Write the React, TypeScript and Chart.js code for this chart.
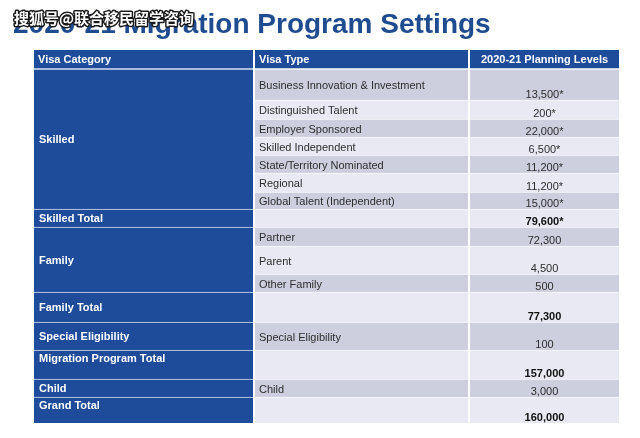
import React, { useEffect, useRef } from 'react';
import { Chart, registerables } from 'chart.js';

Chart.register(...registerables);

// ---------- data ----------
const titleText = '2020-21 Migration Program Settings';
const watermarkText = '搜狐号@联合移民留学咨询';
const headers = ['Visa Category', 'Visa Type', '2020-21 Planning Levels'];
const categories = [
  'Skilled',
  'Skilled Total',
  'Family',
  'Family Total',
  'Special Eligibility',
  'Migration Program Total',
  'Child',
  'Grand Total',
];
const categoryRowSpans = [7, 1, 3, 1, 1, 1, 1, 1];
const visaTypes = [
  'Business Innovation & Investment',
  'Distinguished Talent',
  'Employer Sponsored',
  'Skilled Independent',
  'State/Territory Nominated',
  'Regional',
  'Global Talent (Independent)',
  '',
  'Partner',
  'Parent',
  'Other Family',
  '',
  'Special Eligibility',
  '',
  'Child',
  '',
];
const planningLevels = [13500, 200, 22000, 6500, 11200, 11200, 15000, 79600, 72300, 4500, 500, 77300, 100, 157000, 3000, 160000];
const provisionalFlags = [true, true, true, true, true, true, true, true, false, false, false, false, false, false, false, false];
const totalFlags = [false, false, false, false, false, false, false, true, false, false, false, true, false, true, false, true];

// ---------- layout (not data) ----------
const rowHeights = [19, 31, 19, 18, 18, 18, 19, 17, 18, 19, 28, 18, 30, 28, 29, 18, 26];
const colWidths = [219, 213, 149];
const colGap = 2;
const categoryTopAligned = [false, false, false, false, false, true, false, true];

const BLUE = '#1e4b9a';
const DARK_ROW = '#cdcfde';
const LIGHT_ROW = '#e8e9f2';
const TEXT = '#2e2e2e';
const FONT = "'Liberation Sans', Arial, sans-serif";

const rowEdges: number[] = [0];
rowHeights.forEach((h) => rowEdges.push(rowEdges[rowEdges.length - 1] + h));
const totalHeight = rowEdges[rowEdges.length - 1];

const colEdges: number[] = [];
{
  let x = 0;
  colWidths.forEach((w) => {
    colEdges.push(x);
    x += w + colGap;
  });
}
const totalWidth = colEdges[2] + colWidths[2];
const colCenters = colWidths.map((w, i) => colEdges[i] + w / 2);

function fmt(i: number) {
  return planningLevels[i].toLocaleString('en-US') + (provisionalFlags[i] ? '*' : '');
}

// column 1 cells (header + category groups)
const col1Cells: { x: number; y: [number, number] }[] = [{ x: colCenters[0], y: [rowEdges[0], rowEdges[1]] }];
{
  let r = 1;
  categoryRowSpans.forEach((span) => {
    col1Cells.push({ x: colCenters[0], y: [rowEdges[r], rowEdges[r + span]] });
    r += span;
  });
}
const makeCol = (c: number) =>
  rowHeights.map((_, r) => ({ x: colCenters[c], y: [rowEdges[r], rowEdges[r + 1]] as [number, number] }));

const rowColor = (i: number) => (i === 0 ? BLUE : (i - 1) % 2 === 0 ? DARK_ROW : LIGHT_ROW);

const tablePlugin = {
  id: 'tableText',
  beforeDraw(chart: any) {
    const ctx = chart.ctx;
    ctx.save();
    ctx.fillStyle = '#ffffff';
    ctx.fillRect(0, 0, chart.width, chart.height);
    ctx.restore();
  },
  afterDatasetsDraw(chart: any) {
    const ctx = chart.ctx as CanvasRenderingContext2D;
    ctx.save();
    chart.data.datasets.forEach((_ds: any, di: number) => {
      const meta = chart.getDatasetMeta(di);
      meta.data.forEach((el: any, i: number) => {
        const { x, y, base, width } = el.getProps(['x', 'y', 'base', 'width'], true);
        const top = Math.min(y, base);
        const bottom = Math.max(y, base);
        const left = x - width / 2;
        ctx.textBaseline = 'middle';
        if (i === 0) {
          ctx.font = `bold 11px ${FONT}`;
          ctx.fillStyle = '#ffffff';
          ctx.textAlign = di === 2 ? 'center' : 'left';
          ctx.fillText(headers[di], di === 2 ? x : left + 4, (top + bottom) / 2 + 0.5);
          return;
        }
        if (di === 0) {
          ctx.font = `bold 11px ${FONT}`;
          ctx.fillStyle = '#ffffff';
          ctx.textAlign = 'left';
          const ty = categoryTopAligned[i - 1] ? top + 9 : (top + bottom) / 2 + 1;
          ctx.fillText(categories[i - 1], left + 5, ty);
        } else if (di === 1) {
          ctx.font = `11px ${FONT}`;
          ctx.fillStyle = TEXT;
          ctx.textAlign = 'left';
          ctx.fillText(visaTypes[i - 1], left + 4, (top + bottom) / 2 + 1.5);
        } else {
          ctx.font = `${totalFlags[i - 1] ? 'bold ' : ''}11px ${FONT}`;
          ctx.fillStyle = totalFlags[i - 1] ? '#111111' : TEXT;
          ctx.textAlign = 'center';
          ctx.fillText(fmt(i - 1), x, bottom - 5.5);
        }
      });
    });
    ctx.restore();
  },
  afterDraw(chart: any) {
    const ctx = chart.ctx as CanvasRenderingContext2D;
    ctx.save();
    ctx.font = `bold 28px ${FONT}`;
    ctx.fillStyle = '#1f4b8f';
    ctx.textAlign = 'left';
    ctx.textBaseline = 'alphabetic';
    ctx.fillText(titleText, 13, 33);
    ctx.font = `bold 15px 'Noto Sans CJK SC', sans-serif`;
    ctx.textBaseline = 'middle';
    ctx.lineWidth = 3;
    ctx.strokeStyle = '#1a1a1a';
    ctx.lineJoin = 'round';
    ctx.strokeText(watermarkText, 14, 18);
    ctx.fillStyle = '#ffffff';
    ctx.fillText(watermarkText, 14, 18);
    ctx.restore();
  },
};

export default function App() {
  const canvasRef = useRef<HTMLCanvasElement | null>(null);

  useEffect(() => {
    if (!canvasRef.current) return;
    const bodyBorder = (ctx: any) =>
      ctx.dataIndex === 0 ? { top: 0, bottom: 1, left: 0, right: 0 } : { top: 1, bottom: 0, left: 0, right: 0 };
    const chart = new Chart(canvasRef.current, {
      type: 'bar',
      data: {
        datasets: [
          {
            label: headers[0],
            data: col1Cells as any,
            backgroundColor: BLUE,
            borderColor: '#d6e0f2',
            borderWidth: bodyBorder as any,
            borderSkipped: false,
            barThickness: colWidths[0],
            stack: 'table',
          },
          {
            label: headers[1],
            data: makeCol(1) as any,
            backgroundColor: (ctx: any) => rowColor(ctx.dataIndex),
            borderColor: '#f7f8fb',
            borderWidth: bodyBorder as any,
            borderSkipped: false,
            barThickness: colWidths[1],
            stack: 'table',
          },
          {
            label: headers[2],
            data: makeCol(2) as any,
            backgroundColor: (ctx: any) => rowColor(ctx.dataIndex),
            borderColor: '#f7f8fb',
            borderWidth: bodyBorder as any,
            borderSkipped: false,
            barThickness: colWidths[2],
            stack: 'table',
          },
        ],
      },
      options: {
        animation: false,
        responsive: true,
        maintainAspectRatio: false,
        layout: { padding: { left: 34, right: 640 - 34 - totalWidth, top: 50, bottom: 438 - 50 - totalHeight } },
        plugins: { legend: { display: false }, tooltip: { enabled: false }, title: { display: false } },
        scales: {
          x: { type: 'linear', min: 0, max: totalWidth, display: false, offset: false, grid: { offset: false } },
          y: { type: 'linear', min: 0, max: totalHeight, reverse: true, display: false, stacked: false },
        },
      },
      plugins: [tablePlugin],
    });
    return () => chart.destroy();
  }, []);

  return (
    <div style={{ position: 'absolute', left: 0, top: 0, width: 640, height: 438, background: '#fff' }}>
      <canvas ref={canvasRef} />
    </div>
  );
}
